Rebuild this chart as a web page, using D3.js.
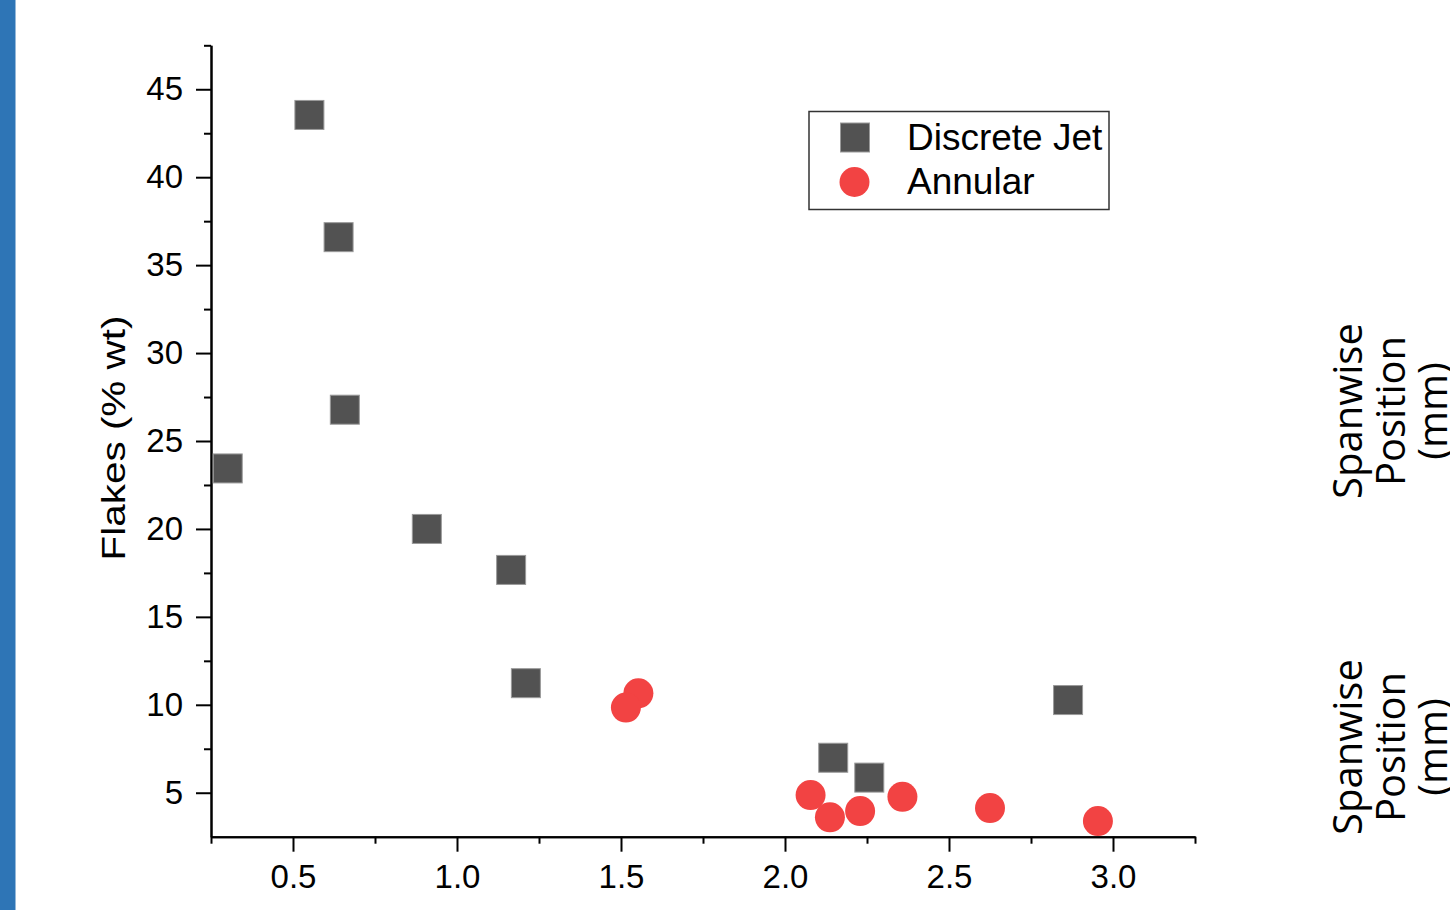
<!DOCTYPE html>
<html>
<head>
<meta charset="utf-8">
<script src="https://cdn.jsdelivr.net/npm/d3@7"></script>
<style>
  html, body { margin: 0; padding: 0; background: #ffffff; }
  svg { display: block; }
</style>
</head>
<body>
<svg id="chart" width="1450" height="910"></svg>
<script>
// Flake content versus x for the two injector types
const discreteJetX = [0.301, 0.550, 0.639, 0.658, 0.908, 1.165, 1.210, 2.147, 2.257, 2.863];
const discreteJetY = [23.44, 43.54, 36.59, 26.78, 20.00, 17.67, 11.23, 6.99, 5.86, 10.27];

const annularX = [1.553, 1.515, 2.078, 2.137, 2.229, 2.358, 2.625, 2.954];
const annularY = [10.65, 9.84, 4.87, 3.60, 3.96, 4.77, 4.13, 3.39];

const seriesNames = ["Discrete Jet", "Annular"];

const xMajorTicks = [0.5, 1.0, 1.5, 2.0, 2.5, 3.0];
const xMinorTicks = [0.25, 0.75, 1.25, 1.75, 2.25, 2.75, 3.25];
const yMajorTicks = [5, 10, 15, 20, 25, 30, 35, 40, 45];
const yMinorTicks = [7.5, 12.5, 17.5, 22.5, 27.5, 32.5, 37.5, 42.5, 47.5];

const xDomain = [0.25, 3.25];
const yDomain = [2.5, 47.5];

const yAxisTitle = "Flakes (% wt)";
const sideLabelLines = ["Spanwise", "Position", "(mm)"];

const svg = d3.select("#chart");

// Blue strip along the left edge
svg.append("rect")
  .attr("x", 0).attr("y", 0)
  .attr("width", 15.5).attr("height", 910)
  .attr("fill", "#2e75b6");

const plot = { left: 211, right: 1195, top: 45.3, bottom: 836.7 };

const x = d3.scaleLinear().domain(xDomain).range([plot.left, plot.right]);
const y = d3.scaleLinear().domain(yDomain).range([plot.bottom, plot.top]);

const axisFont = "'Liberation Sans', Arial, Helvetica, sans-serif";

function styleAxis(g) {
  g.selectAll("path.domain").attr("stroke", "#000").attr("stroke-width", 2);
  g.selectAll(".tick line").attr("stroke", "#000").attr("stroke-width", 2);
  g.selectAll(".tick text")
    .attr("fill", "#000")
    .style("font-family", axisFont)
    .style("font-size", "33px");
}

// Minor ticks first, then the labelled major axes on top
svg.append("g")
  .attr("transform", `translate(0,${plot.bottom})`)
  .call(d3.axisBottom(x).tickValues(xMinorTicks).tickSize(7).tickSizeOuter(0).tickFormat(""))
  .call(styleAxis);

svg.append("g")
  .attr("transform", `translate(${plot.left},0)`)
  .call(d3.axisLeft(y).tickValues(yMinorTicks).tickSize(7).tickSizeOuter(0).tickFormat(""))
  .call(styleAxis);

svg.append("g")
  .attr("transform", `translate(0,${plot.bottom})`)
  .call(d3.axisBottom(x).tickValues(xMajorTicks).tickSize(15).tickSizeOuter(0)
    .tickPadding(13).tickFormat(d3.format(".1f")))
  .call(styleAxis);

svg.append("g")
  .attr("transform", `translate(${plot.left},0)`)
  .call(d3.axisLeft(y).tickValues(yMajorTicks).tickSize(15).tickSizeOuter(0)
    .tickPadding(13).tickFormat(d3.format("d")))
  .call(styleAxis);

// Y axis title
svg.append("text")
  .attr("transform", `translate(124.5,438) rotate(-90)`)
  .attr("text-anchor", "middle")
  .attr("textLength", 245)
  .attr("lengthAdjust", "spacingAndGlyphs")
  .style("font-family", axisFont)
  .style("font-size", "33px")
  .attr("fill", "#000")
  .text(yAxisTitle);

// Markers
const squareSize = 29;
const circleR = 15;
const squareFill = "#525252";
const squareEdge = "#9a9a9a";
const circleFill = "#f24343";

const discreteJet = discreteJetX.map((v, i) => ({ x: v, y: discreteJetY[i] }));
const annular = annularX.map((v, i) => ({ x: v, y: annularY[i] }));

svg.append("g").selectAll("rect")
  .data(discreteJet)
  .join("rect")
  .attr("x", d => x(d.x) - squareSize / 2)
  .attr("y", d => y(d.y) - squareSize / 2)
  .attr("width", squareSize)
  .attr("height", squareSize)
  .attr("fill", squareFill)
  .attr("stroke", squareEdge)
  .attr("stroke-width", 1);

svg.append("g").selectAll("circle")
  .data(annular)
  .join("circle")
  .attr("cx", d => x(d.x))
  .attr("cy", d => y(d.y))
  .attr("r", circleR)
  .attr("fill", circleFill);

// Legend
const legend = svg.append("g");
legend.append("rect")
  .attr("x", 809).attr("y", 111.5)
  .attr("width", 300).attr("height", 98)
  .attr("fill", "#fff")
  .attr("stroke", "#333")
  .attr("stroke-width", 1.5);

legend.append("rect")
  .attr("x", 855 - squareSize / 2).attr("y", 137.5 - squareSize / 2)
  .attr("width", squareSize).attr("height", squareSize)
  .attr("fill", squareFill).attr("stroke", squareEdge).attr("stroke-width", 1);

legend.append("circle")
  .attr("cx", 854.5).attr("cy", 182)
  .attr("r", circleR)
  .attr("fill", circleFill);

legend.selectAll("text.entry")
  .data(seriesNames)
  .join("text")
  .attr("class", "entry")
  .attr("x", 907)
  .attr("y", (d, i) => 149.5 + i * 44)
  .style("font-family", axisFont)
  .style("font-size", "37px")
  .attr("fill", "#000")
  .text(d => d);

// Side labels at the right edge (third line runs off the page edge)
const sideFont = "'Open Sans', 'Noto Sans', sans-serif";
[411, 747].forEach(cy => {
  const g = svg.append("g")
    .attr("transform", `translate(1362,${cy}) rotate(-90)`);
  g.selectAll("text")
    .data(sideLabelLines)
    .join("text")
    .attr("x", 0)
    .attr("y", (d, i) => i * 42.5)
    .attr("text-anchor", "middle")
    .style("font-family", sideFont)
    .style("font-size", "40px")
    .attr("fill", "#000")
    .text(d => d);
});
</script>
</body>
</html>
